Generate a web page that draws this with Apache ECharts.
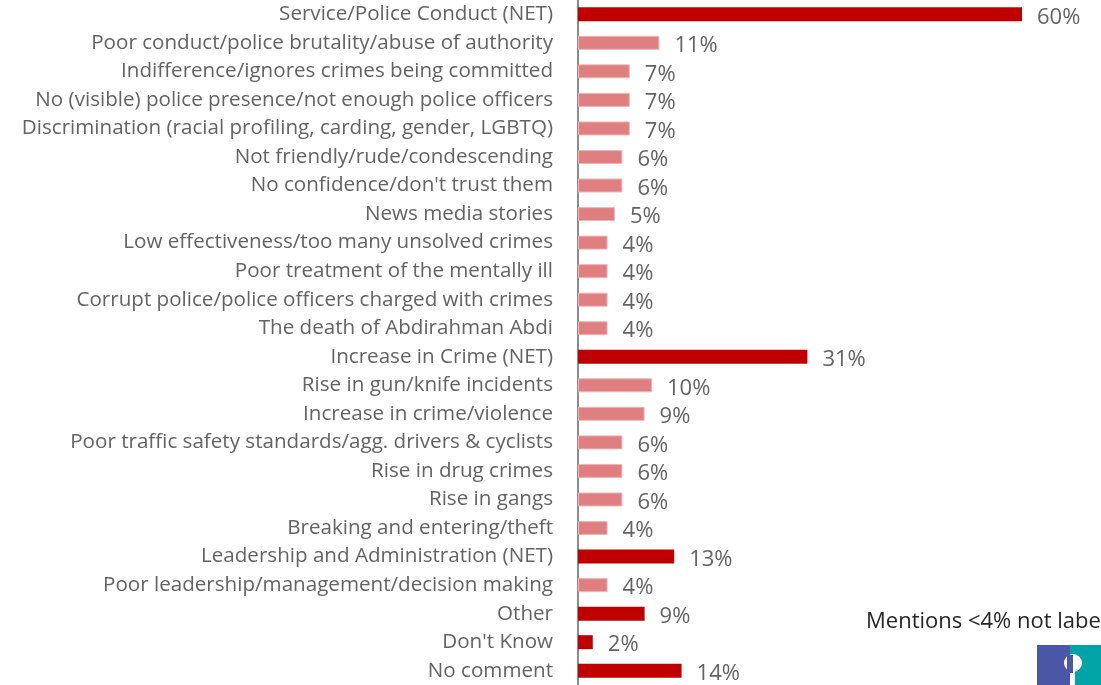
<!DOCTYPE html>
<html>
<head>
<meta charset="utf-8">
<script src="https://cdn.jsdelivr.net/npm/echarts@6/dist/echarts.min.js"></script>
<style>
  html, body { margin: 0; padding: 0; background: #fff; }
  #chart { width: 1101px; height: 685px; }
</style>
</head>
<body>
<div id="chart"></div>
<script>
// Reasons for negative perception of police, share of mentions (%)
const categories = [
  "Service/Police Conduct (NET)",
  "Poor conduct/police brutality/abuse of authority",
  "Indifference/ignores crimes being committed",
  "No (visible) police presence/not enough police officers",
  "Discrimination (racial profiling, carding, gender, LGBTQ)",
  "Not friendly/rude/condescending",
  "No confidence/don't trust them",
  "News media stories",
  "Low effectiveness/too many unsolved crimes",
  "Poor treatment of the mentally ill",
  "Corrupt police/police officers charged with crimes",
  "The death of Abdirahman Abdi",
  "Increase in Crime (NET)",
  "Rise in gun/knife incidents",
  "Increase in crime/violence",
  "Poor traffic safety standards/agg. drivers & cyclists",
  "Rise in drug crimes",
  "Rise in gangs",
  "Breaking and entering/theft",
  "Leadership and Administration (NET)",
  "Poor leadership/management/decision making",
  "Other",
  "Don't Know",
  "No comment"
];
const values = [60, 11, 7, 7, 7, 6, 6, 5, 4, 4, 4, 4, 31, 10, 9, 6, 6, 6, 4, 13, 4, 9, 2, 14];
// true = summary row (NET / standalone), drawn in the darker red
const isSummary = [true, false, false, false, false, false, false, false, false, false, false, false,
                   true, false, false, false, false, false, false, true, false, true, true, true];
const noteText = "Mentions <4% not labelled";

const DARK = "#C00000";
const LIGHT = "#E07F7F";
const TEXT = "#636363";
const FONT = "'Open Sans'";

const chart = echarts.init(document.getElementById("chart"), null, { renderer: "canvas" });

chart.setOption({
  animation: false,
  backgroundColor: "#ffffff",
  grid: { left: 578, right: 5, top: 0, bottom: -5, containLabel: false },
  xAxis: {
    type: "value",
    min: 0,
    max: 70,
    show: false
  },
  yAxis: {
    type: "category",
    inverse: true,
    data: categories,
    axisTick: { show: false },
    axisLine: { show: true, lineStyle: { color: "#8c8c8c", width: 2 } },
    axisLabel: {
      color: TEXT,
      fontFamily: FONT,
      fontSize: 20.6,
      margin: 25,
      interval: 0,
      padding: [8, 0, 0, 0]
    },
    splitLine: { show: false }
  },
  series: [{
    type: "bar",
    barWidth: 14,
    data: values.map((v, i) => ({
      value: v,
      itemStyle: isSummary[i]
        ? { color: DARK }
        : { color: LIGHT, borderColor: "#EFB5B5", borderWidth: 1 }
    })),
    label: {
      show: true,
      position: "right",
      distance: 15,
      formatter: p => p.value + "%",
      color: TEXT,
      fontFamily: FONT,
      fontSize: 22,
      offset: [0, 3]
    }
  }],
  graphic: [
    {
      type: "text",
      left: 866,
      top: 611,
      style: { text: noteText, fill: "#262626", font: "22px " + FONT }
    },
    {
      type: "group",
      left: 1037,
      top: 645,
      children: [
        { type: "rect", shape: { x: 0, y: 0, width: 33, height: 40 }, style: { fill: "#4A57A6" } },
        { type: "rect", shape: { x: 33, y: 0, width: 40, height: 40 }, style: { fill: "#00A3A6" } },
        { type: "circle", shape: { cx: 36, cy: 18, r: 9 }, style: { fill: "#ffffff" } },
        { type: "rect", shape: { x: 33, y: 24, width: 5, height: 16 }, style: { fill: "#ffffff" } },
        { type: "rect", shape: { x: 30, y: 10, width: 6, height: 18 }, style: { fill: "#4A57A6" } }
      ]
    }
  ]
});
</script>
</body>
</html>
